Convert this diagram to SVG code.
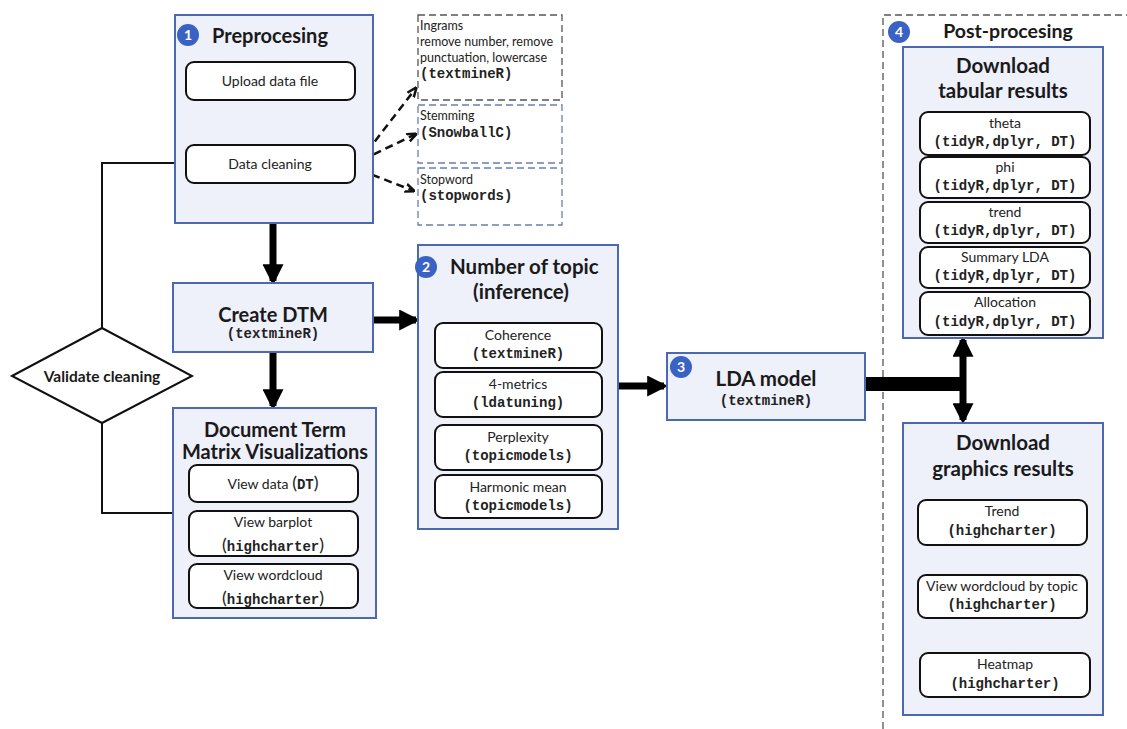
<svg xmlns="http://www.w3.org/2000/svg" width="1127" height="729" viewBox="0 0 1127 729">
<defs>
<style>
.panel{fill:#eef0fa;stroke:#4b68b0;stroke-width:2}
.item{fill:#fff;stroke:#111;stroke-width:2}
.t{font-family:Lato,"Open Sans",sans-serif;fill:#222}
.h{font-family:Lato,"Open Sans",sans-serif;font-weight:bold;fill:#1a1a1a}
.m{font-family:"Liberation Mono",monospace;font-weight:bold;fill:#222;font-size:14px}
.badge{fill:#3a62c4}
.bt{font-family:Lato,sans-serif;font-weight:bold;fill:#fff;font-size:14px}
.dash{fill:#fff;stroke:#555;stroke-width:1.3;stroke-dasharray:7 4}
.dashb{fill:#fff;stroke:#6a7fb0;stroke-width:1.3;stroke-dasharray:7 4}
.thin{fill:none;stroke:#111;stroke-width:2}
.thick{fill:none;stroke:#000;stroke-width:7}
.dl{fill:none;stroke:#111;stroke-width:2.5;stroke-dasharray:8 5}
</style>
<marker id="ah" viewBox="0 0 10 10" refX="9" refY="5" markerWidth="10" markerHeight="10" markerUnits="userSpaceOnUse" orient="auto-start-reverse"><path d="M0,0 L10,5 L0,10 z" fill="#111"/></marker>
<marker id="ahs" viewBox="0 0 10 10" refX="9" refY="5" markerWidth="10" markerHeight="10" markerUnits="userSpaceOnUse" orient="auto-start-reverse"><path d="M0,1 L10,5 L0,9" fill="none" stroke="#111" stroke-width="2.5"/></marker>
<marker id="ahk" viewBox="0 0 10 10" refX="8" refY="5" markerWidth="3" markerHeight="3" orient="auto-start-reverse"><path d="M0,0 L10,5 L0,10 z" fill="#000"/></marker>
</defs>

<g id="postproc-frame">
<path d="M883,729 L883,15 L1127,15" fill="none" stroke="#555" stroke-width="1.3" stroke-dasharray="7 4"/>
</g>

<g id="connectors">
<path class="thin" d="M102,328 L102,163 L185,163" marker-end="url(#ah)"/>
<path class="thin" d="M102,423 L102,513 L173,513"/>
<path class="dl" d="M359,162 L416,88" marker-end="url(#ahs)" marker-start="url(#ahs)"/>
<path class="dl" d="M362,160 L416,134" marker-end="url(#ahs)"/>
<path class="dl" d="M360,170 L414,191" marker-end="url(#ahs)"/>
<path class="thick" d="M273,223 L273,281" marker-end="url(#ahk)"/>
<path class="thick" d="M273,352 L273,406" marker-end="url(#ahk)"/>
<path class="thick" d="M373,320 L416,320" marker-end="url(#ahk)"/>
<path class="thick" d="M618,386 L664,386" marker-end="url(#ahk)"/>
<path d="M865,384 L963,384" fill="none" stroke="#000" stroke-width="14"/>
<path class="thick" d="M963,340 L963,420" marker-end="url(#ahk)" marker-start="url(#ahk)"/>
</g>

<g id="preprocessing">
<rect class="panel" x="175" y="15" width="198" height="208"/>
<circle class="badge" cx="188" cy="35" r="11"/>
<text class="bt" x="188" y="40" text-anchor="middle">1</text>
<text class="h" x="212" y="43" font-size="20">Preprocesing</text>
<rect class="item" x="186" y="62" width="169" height="38" rx="8"/>
<text class="t" x="270" y="86" font-size="14" text-anchor="middle">Upload data file</text>
<rect class="item" x="186" y="145" width="169" height="38" rx="8"/>
<text class="t" x="270" y="169" font-size="14" text-anchor="middle">Data cleaning</text>
</g>

<g id="ngrams">
<rect class="dash" x="418" y="15" width="144" height="85"/>
<text class="t" x="420" y="30" font-size="12.5">Ingrams</text>
<text class="t" x="420" y="46" font-size="12.5">remove number, remove</text>
<text class="t" x="420" y="62" font-size="12.5">punctuation,  lowercase</text>
<text class="m" x="420" y="78" font-size="13">(textmineR)</text>
</g>
<g id="stemming">
<rect class="dashb" x="418" y="105" width="144" height="58"/>
<text class="t" x="420" y="120" font-size="12.5">Stemming</text>
<text class="m" x="420" y="137" font-size="13">(SnowballC)</text>
</g>
<g id="stopword">
<rect class="dashb" x="418" y="168" width="144" height="57"/>
<text class="t" x="420" y="184" font-size="12.5">Stopword</text>
<text class="m" x="420" y="200" font-size="13">(stopwords)</text>
</g>

<g id="validate">
<polygon points="12,376 102,328 192,376 102,423" fill="#fff" stroke="#111" stroke-width="2"/>
<text class="h" x="102" y="382" font-size="15.5" text-anchor="middle">Validate cleaning</text>
</g>

<g id="create-dtm">
<rect class="panel" x="173" y="283" width="200" height="69"/>
<text class="h" x="273" y="322" font-size="20" text-anchor="middle">Create DTM</text>
<text class="m" x="273" y="338" text-anchor="middle">(textmineR)</text>
</g>

<g id="dtm-vis">
<rect class="panel" x="173" y="408" width="203" height="210"/>
<text class="h" x="275" y="437" font-size="20" text-anchor="middle">Document Term</text>
<text class="h" x="275" y="459" font-size="20" text-anchor="middle">Matrix Visualizations</text>
<rect class="item" x="189" y="465" width="169" height="37" rx="8"/>
<text class="t" x="273" y="489" font-size="14" text-anchor="middle">View data <tspan font-size="18">(</tspan><tspan class="m" font-size="12">DT</tspan><tspan font-size="18">)</tspan></text>
<rect class="item" x="189" y="511" width="169" height="45" rx="8"/>
<text class="t" x="273" y="527" font-size="14" text-anchor="middle">View barplot</text>
<text class="t" x="273" y="551" font-size="18" text-anchor="middle">(<tspan class="m" font-size="14.5">highcharter</tspan>)</text>
<rect class="item" x="189" y="564" width="169" height="44" rx="8"/>
<text class="t" x="273" y="580" font-size="14" text-anchor="middle">View wordcloud</text>
<text class="t" x="273" y="604" font-size="18" text-anchor="middle">(<tspan class="m" font-size="14.5">highcharter</tspan>)</text>
</g>

<g id="num-topic">
<rect class="panel" x="418" y="245" width="200" height="284"/>
<circle class="badge" cx="426" cy="267" r="11"/>
<text class="bt" x="426" y="272" text-anchor="middle">2</text>
<text class="h" x="450" y="274" font-size="20.5">Number of topic</text>
<text class="h" x="521" y="299" font-size="20.5" text-anchor="middle">(inference)</text>
<rect class="item" x="435" y="323" width="167" height="45" rx="8"/>
<text class="t" x="518" y="340" font-size="14" text-anchor="middle">Coherence</text>
<text class="m" x="518" y="358" text-anchor="middle">(textmineR)</text>
<rect class="item" x="435" y="372" width="167" height="45" rx="8"/>
<text class="t" x="518" y="389" font-size="14" text-anchor="middle">4-metrics</text>
<text class="m" x="518" y="407" text-anchor="middle">(ldatuning)</text>
<rect class="item" x="435" y="425" width="167" height="45" rx="8"/>
<text class="t" x="518" y="442" font-size="14" text-anchor="middle">Perplexity</text>
<text class="m" x="518" y="460" text-anchor="middle">(topicmodels)</text>
<rect class="item" x="435" y="475" width="167" height="43" rx="8"/>
<text class="t" x="518" y="492" font-size="14" text-anchor="middle">Harmonic mean</text>
<text class="m" x="518" y="510" text-anchor="middle">(topicmodels)</text>
</g>

<g id="lda">
<rect class="panel" x="667" y="353" width="198" height="67"/>
<circle class="badge" cx="681" cy="367" r="11"/>
<text class="bt" x="681" y="372" text-anchor="middle">3</text>
<text class="h" x="766" y="386" font-size="20.5" text-anchor="middle">LDA model</text>
<text class="m" x="766" y="405" text-anchor="middle" font-size="13">(textmineR)</text>
</g>

<g id="post-title">
<circle class="badge" cx="899" cy="32" r="11"/>
<text class="bt" x="899" y="37" text-anchor="middle">4</text>
<text class="h" x="1008" y="38" font-size="19.5" text-anchor="middle">Post-procesing</text>
</g>

<g id="tabular">
<rect class="panel" x="903" y="47" width="200" height="291"/>
<text class="h" x="1003" y="73" font-size="20.5" text-anchor="middle">Download</text>
<text class="h" x="1003" y="98" font-size="20.5" text-anchor="middle">tabular results</text>
<rect class="item" x="920" y="112" width="170" height="43" rx="8"/>
<text class="t" x="1005" y="128" font-size="14" text-anchor="middle">theta</text>
<text class="m" x="1005" y="146" text-anchor="middle">(tidyR,dplyr, DT)</text>
<rect class="item" x="920" y="157" width="170" height="41" rx="8"/>
<text class="t" x="1005" y="172" font-size="14" text-anchor="middle">phi</text>
<text class="m" x="1005" y="190" text-anchor="middle">(tidyR,dplyr, DT)</text>
<rect class="item" x="920" y="202" width="170" height="41" rx="8"/>
<text class="t" x="1005" y="217" font-size="14" text-anchor="middle">trend</text>
<text class="m" x="1005" y="235" text-anchor="middle">(tidyR,dplyr, DT)</text>
<rect class="item" x="920" y="247" width="170" height="41" rx="8"/>
<text class="t" x="1005" y="262" font-size="14" text-anchor="middle">Summary LDA</text>
<text class="m" x="1005" y="280" text-anchor="middle">(tidyR,dplyr, DT)</text>
<rect class="item" x="920" y="292" width="170" height="43" rx="8"/>
<text class="t" x="1005" y="307" font-size="14" text-anchor="middle">Allocation</text>
<text class="m" x="1005" y="326" text-anchor="middle">(tidyR,dplyr, DT)</text>
</g>

<g id="graphics">
<rect class="panel" x="903" y="423" width="200" height="292"/>
<text class="h" x="1003" y="450" font-size="20.5" text-anchor="middle">Download</text>
<text class="h" x="1003" y="476" font-size="20.5" text-anchor="middle">graphics results</text>
<rect class="item" x="918" y="500" width="169" height="45" rx="8"/>
<text class="t" x="1002" y="516" font-size="14" text-anchor="middle">Trend</text>
<text class="m" x="1002" y="535" text-anchor="middle">(highcharter)</text>
<rect class="item" x="918" y="575" width="169" height="43" rx="8"/>
<text class="t" x="1002" y="591" font-size="14" text-anchor="middle">View wordcloud by topic</text>
<text class="m" x="1002" y="609" text-anchor="middle">(highcharter)</text>
<rect class="item" x="920" y="653" width="170" height="44" rx="8"/>
<text class="t" x="1005" y="669" font-size="14" text-anchor="middle">Heatmap</text>
<text class="m" x="1005" y="688" text-anchor="middle">(highcharter)</text>
</g>
</svg>
